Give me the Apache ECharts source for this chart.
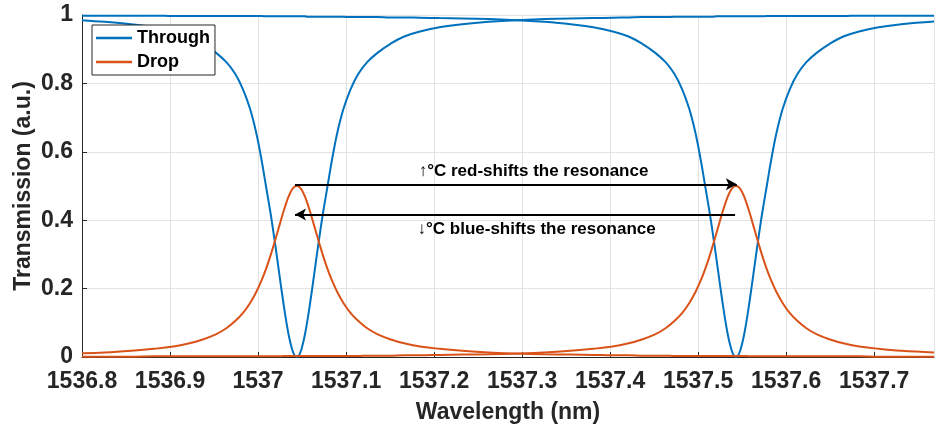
<!DOCTYPE html>
<html>
<head>
<meta charset="utf-8">
<script src="https://cdn.jsdelivr.net/npm/echarts@6/dist/echarts.min.js"></script>
<style>
html,body{margin:0;padding:0;background:#fff;}
#chart{width:935px;height:429px;}
</style>
</head>
<body>
<div id="chart"></div>
<script>
// Wavelength samples (nm)
const wavelength = [
  1536.800,1536.826,1536.856,1536.882,1536.904,1536.922,1536.938,1536.952,1536.964,1536.974,1536.983,1536.991,1536.998,1537.004,1537.009,1537.014,1537.018,1537.022,1537.026,1537.029,1537.032,1537.035,1537.038,1537.041,
  1537.044,
  1537.047,1537.050,1537.053,1537.056,1537.059,1537.062,1537.066,1537.070,1537.074,1537.079,1537.084,1537.090,1537.097,1537.105,1537.114,1537.124,1537.136,1537.150,1537.166,1537.184,1537.206,1537.232,1537.262,1537.294,
  1537.325,1537.355,1537.381,1537.403,1537.421,1537.437,1537.451,1537.463,1537.473,1537.482,1537.490,1537.497,1537.503,1537.508,1537.513,1537.517,1537.521,1537.525,1537.528,1537.531,1537.534,1537.537,1537.540,
  1537.543,
  1537.546,1537.549,1537.552,1537.555,1537.558,1537.561,1537.565,1537.569,1537.573,1537.578,1537.583,1537.589,1537.596,1537.604,1537.613,1537.623,1537.635,1537.649,1537.665,1537.683,1537.705,1537.731,1537.768
];
// Through port, resonance near 1537.044 nm
const throughB = [
  0.985,0.980,0.973,0.964,0.952,0.937,0.915,0.890,0.862,0.828,0.782,0.725,0.655,0.576,0.500,0.424,0.356,0.283,0.209,0.155,0.105,0.062,0.029,0.007,
  0.000,
  0.007,0.029,0.062,0.105,0.155,0.209,0.283,0.356,0.424,0.500,0.576,0.655,0.725,0.782,0.828,0.862,0.890,0.915,0.937,0.952,0.964,0.973,0.980,0.985,
  0.988,0.990,0.991,0.992,0.993,0.994,0.994,0.994,0.995,0.995,0.995,0.995,0.995,0.995,0.995,0.995,0.996,0.996,0.996,0.996,0.996,0.996,0.996,
  0.996,
  0.996,0.996,0.996,0.996,0.996,0.996,0.996,0.996,0.996,0.997,0.997,0.997,0.997,0.997,0.997,0.997,0.997,0.997,0.997,0.998,0.998,0.998,0.998
];
// Through port, resonance near 1537.543 nm
const throughA = [
  0.998,0.998,0.998,0.998,0.997,0.997,0.997,0.997,0.997,0.997,0.997,0.997,0.997,0.997,0.996,0.996,0.996,0.996,0.996,0.996,0.996,0.996,0.996,0.996,
  0.996,
  0.996,0.996,0.996,0.995,0.995,0.995,0.995,0.995,0.995,0.995,0.995,0.995,0.995,0.994,0.994,0.994,0.994,0.993,0.993,0.992,0.991,0.990,0.988,0.985,
  0.980,0.973,0.964,0.952,0.937,0.915,0.890,0.862,0.828,0.782,0.725,0.655,0.576,0.500,0.424,0.356,0.283,0.209,0.155,0.105,0.062,0.029,0.007,
  0.000,
  0.007,0.029,0.062,0.105,0.155,0.209,0.283,0.356,0.424,0.500,0.576,0.655,0.725,0.782,0.828,0.862,0.890,0.915,0.937,0.952,0.964,0.973,0.981
];
// Drop port, resonance near 1537.044 nm
const dropB = [
  0.011,0.013,0.018,0.024,0.031,0.040,0.052,0.066,0.084,0.105,0.129,0.158,0.190,0.224,0.257,0.295,0.329,0.364,0.400,0.426,0.450,0.471,0.487,0.497,
  0.500,
  0.497,0.487,0.471,0.450,0.426,0.400,0.364,0.329,0.295,0.257,0.224,0.190,0.158,0.129,0.105,0.084,0.066,0.052,0.040,0.031,0.024,0.018,0.013,0.010,
  0.008,0.007,0.006,0.005,0.005,0.004,0.004,0.004,0.003,0.003,0.003,0.003,0.003,0.003,0.003,0.003,0.003,0.003,0.003,0.003,0.003,0.003,0.003,
  0.003,
  0.003,0.003,0.003,0.003,0.002,0.002,0.002,0.002,0.002,0.002,0.002,0.002,0.002,0.002,0.002,0.002,0.002,0.002,0.002,0.002,0.001,0.001,0.001
];
// Drop port, resonance near 1537.543 nm
const dropA = [
  0.001,0.001,0.001,0.002,0.002,0.002,0.002,0.002,0.002,0.002,0.002,0.002,0.002,0.002,0.002,0.002,0.002,0.002,0.002,0.003,0.003,0.003,0.003,0.003,
  0.003,
  0.003,0.003,0.003,0.003,0.003,0.003,0.003,0.003,0.003,0.003,0.003,0.003,0.003,0.003,0.003,0.004,0.004,0.004,0.005,0.005,0.006,0.007,0.008,0.010,
  0.013,0.018,0.024,0.031,0.040,0.052,0.066,0.084,0.105,0.129,0.158,0.190,0.224,0.257,0.295,0.329,0.364,0.400,0.426,0.450,0.471,0.487,0.497,
  0.500,
  0.497,0.487,0.471,0.450,0.426,0.400,0.364,0.329,0.295,0.257,0.224,0.190,0.158,0.129,0.105,0.084,0.066,0.052,0.040,0.031,0.024,0.018,0.013
];

// Annotations (data coordinates)
const redArrow = [[1537.042, 0.505], [1537.544, 0.505]];
const blueArrow = [[1537.542, 0.417], [1537.042, 0.417]];
const redText = {coord: [1537.313, 0.542], text: '\u2191\u00B0C red-shifts the resonance'};
const blueText = {coord: [1537.3165, 0.372], text: '\u2193\u00B0C blue-shifts the resonance'};

const BLUE = '#0072BD', ORANGE = '#D95319', INK = '#262626';
const FONT = '"Liberation Sans", Arial, Helvetica, sans-serif';

const zip = (ys) => wavelength.map((w, i) => [w, ys[i]]);

const chart = echarts.init(document.getElementById('chart'), null, {renderer: 'canvas'});

function lineSeries(name, color, ys, extra) {
  return Object.assign({
    name: name, type: 'line', data: zip(ys),
    showSymbol: false, symbol: 'none', smooth: 0.4,
    color: color,
    lineStyle: {color: color, width: 2},
    itemStyle: {color: color},
    animation: false, silent: true
  }, extra || {});
}

const option = {
  animation: false,
  grid: {left: 82, right: 1, top: 15, bottom: 69, containLabel: false},
  legend: {
    data: ['Through', 'Drop'],
    orient: 'vertical', left: 92, top: 25,
    backgroundColor: '#fff', borderColor: INK, borderWidth: 1,
    padding: [4, 5, 4, 4], itemGap: 6,
    itemWidth: 36, itemHeight: 2.5, icon: 'rect',
    textStyle: {fontFamily: FONT, fontWeight: 'bold', fontSize: 18, color: '#000'}
  },
  xAxis: {
    type: 'value', min: 1536.8, max: 1537.768, interval: 0.1,
    name: 'Wavelength (nm)', nameLocation: 'middle', nameGap: 44, nameMoveOverlap: false,
    nameTextStyle: {fontFamily: FONT, fontWeight: 'bold', fontSize: 23, color: INK},
    axisLine: {show: true, onZero: false, lineStyle: {color: INK, width: 1}},
    axisTick: {show: true, inside: true, length: 5, lineStyle: {color: INK}},
    axisLabel: {fontFamily: FONT, fontWeight: 'bold', fontSize: 23, color: INK, margin: 13,
      showMaxLabel: false,
      formatter: v => String(Math.round(v * 10) / 10)},
    splitLine: {show: true, lineStyle: {color: '#e3e3e3', width: 1}}
  },
  yAxis: {
    type: 'value', min: 0, max: 1, interval: 0.2,
    name: 'Transmission (a.u.)', nameLocation: 'middle', nameGap: 47, nameMoveOverlap: false,
    nameTextStyle: {fontFamily: FONT, fontWeight: 'bold', fontSize: 23, color: INK},
    axisLine: {show: true, lineStyle: {color: INK, width: 1}},
    axisTick: {show: true, inside: true, length: 5, lineStyle: {color: INK}},
    axisLabel: {fontFamily: FONT, fontWeight: 'bold', fontSize: 23, color: INK, margin: 9,
      formatter: v => String(Math.round(v * 10) / 10)},
    splitLine: {show: true, lineStyle: {color: '#e3e3e3', width: 1}}
  },
  series: [
    lineSeries('Through', BLUE, throughB),
    lineSeries('Through', BLUE, throughA),
    lineSeries('Drop', ORANGE, dropB),
    lineSeries('Drop', ORANGE, dropA, {
      markLine: {
        silent: true, animation: false, symbolSize: [9, 11],
        lineStyle: {color: '#000', width: 2, type: 'solid'},
        label: {show: false},
        emphasis: {disabled: true},
        data: [
          [{coord: redArrow[0], symbol: 'none'}, {coord: redArrow[1], symbol: 'arrow'}],
          [{coord: blueArrow[0], symbol: 'none'}, {coord: blueArrow[1], symbol: 'arrow'}]
        ]
      },
      markPoint: {
        silent: true, animation: false, symbol: 'circle', symbolSize: 1,
        itemStyle: {color: 'rgba(0,0,0,0)'},
        label: {show: true, position: 'inside', formatter: p => p.name,
          fontFamily: FONT, fontWeight: 'bold', fontSize: 17, color: '#000'},
        data: [
          {name: redText.text, coord: redText.coord},
          {name: blueText.text, coord: blueText.coord}
        ]
      }
    })
  ]
};
chart.setOption(option);
</script>
</body>
</html>
